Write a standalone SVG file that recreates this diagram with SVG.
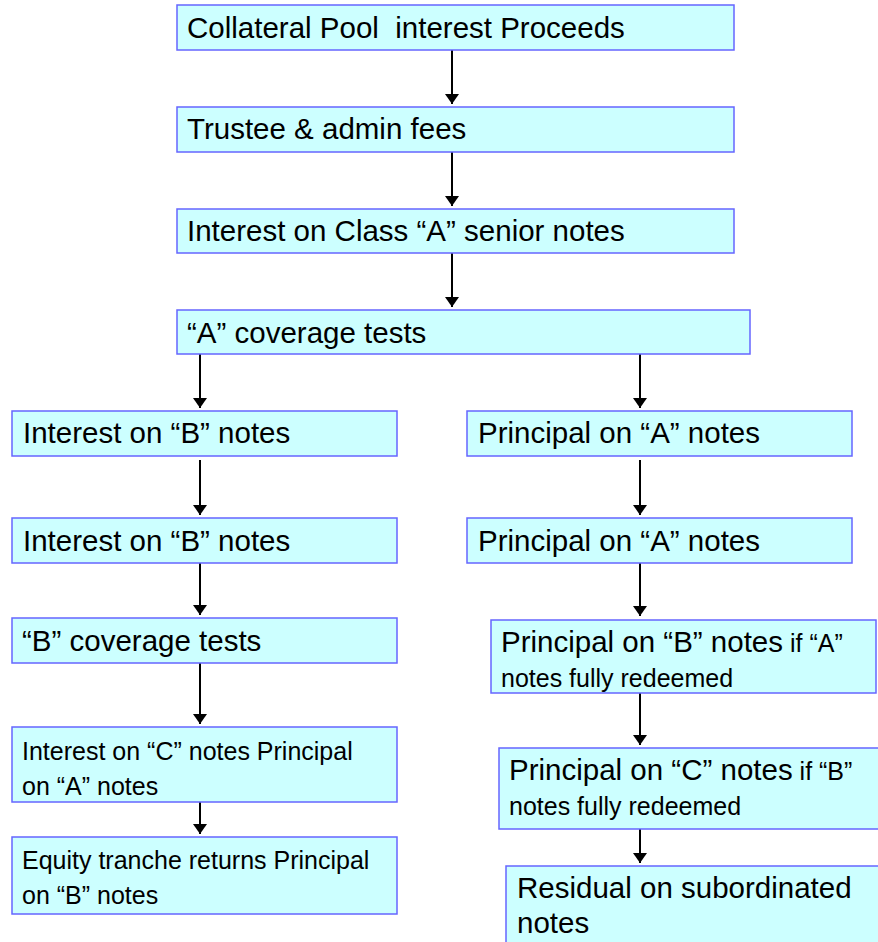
<svg xmlns="http://www.w3.org/2000/svg" width="878" height="942" viewBox="0 0 878 942">
<style>
.box{fill:#CCFFFF;stroke:#6666FF;stroke-width:1.5}
.t{font-family:"Liberation Sans",Arial,sans-serif;font-size:29.5px;fill:#000;white-space:pre}
.s{font-size:25px}
.c line{stroke:#000;stroke-width:2}
</style>
<defs>
<marker id="ah" markerUnits="userSpaceOnUse" viewBox="0 0 10 14" refX="10" refY="7" markerWidth="10" markerHeight="14" orient="auto">
<path d="M0,0 L10,7 L0,14 z" fill="#000"/>
</marker>
<clipPath id="clipB"><rect x="491" y="620" width="385" height="73"/></clipPath>
</defs>
<rect width="878" height="942" fill="#fff"/>
<g id="connectors" class="c">
<line x1="452" y1="50" x2="452" y2="104" marker-end="url(#ah)"/>
<line x1="452" y1="152" x2="452" y2="206" marker-end="url(#ah)"/>
<line x1="452" y1="253" x2="452" y2="307" marker-end="url(#ah)"/>
<line x1="200" y1="354" x2="200" y2="408" marker-end="url(#ah)"/>
<line x1="640" y1="354" x2="640" y2="408" marker-end="url(#ah)"/>
<line x1="200" y1="460" x2="200" y2="515" marker-end="url(#ah)"/>
<line x1="640" y1="460" x2="640" y2="515" marker-end="url(#ah)"/>
<line x1="200" y1="563" x2="200" y2="615" marker-end="url(#ah)"/>
<line x1="640" y1="563" x2="640" y2="616" marker-end="url(#ah)"/>
<line x1="200" y1="663" x2="200" y2="724" marker-end="url(#ah)"/>
<line x1="640" y1="693" x2="640" y2="745" marker-end="url(#ah)"/>
<line x1="200" y1="802" x2="200" y2="834" marker-end="url(#ah)"/>
<line x1="640" y1="829" x2="640" y2="863" marker-end="url(#ah)"/>
</g>
<g id="n1"><rect class="box" x="177" y="5" width="557" height="45"/><text class="t" x="187" y="38" xml:space="preserve">Collateral Pool  interest Proceeds</text></g>
<g id="n2"><rect class="box" x="177" y="107" width="557" height="45"/><text class="t" x="187" y="139">Trustee &amp; admin fees</text></g>
<g id="n3"><rect class="box" x="177" y="209" width="557" height="44"/><text class="t" x="187" y="241">Interest on Class “A” senior notes</text></g>
<g id="n4"><rect class="box" x="177" y="310" width="573" height="44"/><text class="t" x="187" y="343">“A” coverage tests</text></g>
<g id="n5"><rect class="box" x="12" y="411" width="385" height="45"/><text class="t" x="23" y="443">Interest on “B” notes</text></g>
<g id="n6"><rect class="box" x="12" y="518" width="385" height="45"/><text class="t" x="23" y="551">Interest on “B” notes</text></g>
<g id="n7"><rect class="box" x="12" y="618" width="385" height="45"/><text class="t" x="22" y="651">“B” coverage tests</text></g>
<g id="n8"><rect class="box" x="12" y="727" width="385" height="75"/><text class="t s" x="22" y="760">Interest on “C” notes Principal</text><text class="t s" x="22" y="795">on “A” notes</text></g>
<g id="n9"><rect class="box" x="12" y="837" width="385" height="77"/><text class="t s" x="22" y="869">Equity tranche returns Principal</text><text class="t s" x="22" y="904">on “B” notes</text></g>
<g id="n10"><rect class="box" x="467" y="411" width="385" height="45"/><text class="t" x="478" y="443">Principal on “A” notes</text></g>
<g id="n11"><rect class="box" x="467" y="518" width="385" height="45"/><text class="t" x="478" y="551">Principal on “A” notes</text></g>
<g id="n12"><rect class="box" x="491" y="620" width="385" height="73"/><g clip-path="url(#clipB)"><text class="t" x="501" y="652">Principal on “B” notes<tspan class="s"> if “A”</tspan></text><text class="t s" x="501" y="687">notes fully redeemed</text></g></g>
<g id="n13"><rect class="box" x="499" y="748" width="385" height="81"/><text class="t" x="509" y="780">Principal on “C” notes<tspan class="s"> if “B”</tspan></text><text class="t s" x="509" y="815">notes fully redeemed</text></g>
<g id="n14"><rect class="box" x="506" y="866" width="385" height="90"/><text class="t" x="517" y="898">Residual on subordinated</text><text class="t" x="517" y="933">notes</text></g>
</svg>
